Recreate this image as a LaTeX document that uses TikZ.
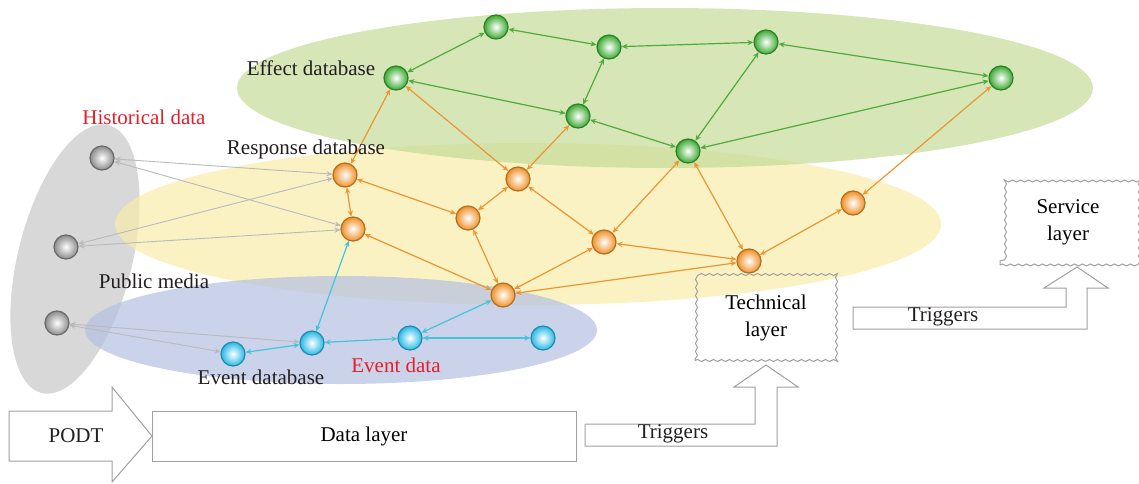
\documentclass[tikz,border=0pt]{standalone}
\usepackage{fontspec}
\setmainfont{Liberation Serif}
\usetikzlibrary{arrows.meta, positioning, decorations.pathmorphing}
\definecolor{effectbg}{RGB}{196,219,152}
\definecolor{respbg}{RGB}{249,236,171}
\definecolor{eventbg}{RGB}{181,192,226}
\definecolor{mediabg}{RGB}{199,199,199}
\definecolor{effectnd}{RGB}{60,170,50}
\definecolor{respnd}{RGB}{240,145,40}
\definecolor{eventnd}{RGB}{40,185,230}
\definecolor{mediand}{RGB}{140,140,140}
\definecolor{effectln}{RGB}{80,170,60}
\definecolor{respln}{RGB}{235,150,50}
\definecolor{eventln}{RGB}{70,195,220}
\definecolor{medialn}{RGB}{185,185,190}
\definecolor{boxln}{RGB}{160,160,160}
\definecolor{labtext}{RGB}{35,31,32}
\definecolor{labred}{RGB}{230,30,40}

\begin{document}
\begin{tikzpicture}[x=0.5pt, y=-0.5pt, >={Stealth[length=3pt, width=2.6pt]},
  font=\fontsize{10.5}{13.5}\selectfont,
  ball/.style={circle, minimum size=12pt, inner sep=0pt, draw=#1!75!black, line width=0.6pt, inner color=white, outer color=#1},
  glink/.style={<->, draw=effectln, line width=0.6pt},
  olink/.style={<->, draw=respln, line width=0.6pt},
  blink/.style={<->, draw=eventln, line width=0.6pt},
  mlink/.style={<->, draw=medialn, line width=0.45pt},
  wavybox/.style={draw=boxln, line width=0.5pt, align=center, decorate, decoration={snake, amplitude=0.5pt, segment length=4pt}},
  flat/.style={draw=boxln, line width=0.5pt, fill=white},
  lbl/.style={text=labtext, inner sep=0pt}]
\useasboundingbox (0,0) rectangle (1139,483);
\fill[mediabg, fill opacity=0.7, rotate around={-14:(75,259)}] (75,259) ellipse [x radius=57, y radius=138];
\fill[respbg, fill opacity=0.7] (528,224) ellipse [x radius=413, y radius=81];
\fill[eventbg, fill opacity=0.7] (341,330) ellipse [x radius=256, y radius=54];
\fill[effectbg, fill opacity=0.7] (665,88) ellipse [x radius=428, y radius=80];

\node[ball=effectnd] (g1) at (496,27) {};
\node[ball=effectnd] (g2) at (609,47) {};
\node[ball=effectnd] (g3) at (766,42) {};
\node[ball=effectnd] (g4) at (396,78) {};
\node[ball=effectnd] (g5) at (578,116) {};
\node[ball=effectnd] (g6) at (688,151) {};
\node[ball=effectnd] (g7) at (1001,78) {};
\node[ball=respnd] (o1) at (345,175) {};
\node[ball=respnd] (o2) at (353,229) {};
\node[ball=respnd] (o3) at (518,179) {};
\node[ball=respnd] (o4) at (468,218) {};
\node[ball=respnd] (o5) at (604,242) {};
\node[ball=respnd] (o6) at (503,295) {};
\node[ball=respnd] (o7) at (749,261) {};
\node[ball=respnd] (o8) at (853,203) {};
\node[ball=eventnd] (b1) at (233,354) {};
\node[ball=eventnd] (b2) at (312,343) {};
\node[ball=eventnd] (b3) at (410,338) {};
\node[ball=eventnd] (b4) at (543,338) {};
\node[ball=mediand] (m1) at (102,158) {};
\node[ball=mediand] (m2) at (66,247) {};
\node[ball=mediand] (m3) at (57,323) {};

\draw[glink] (g1) -- (g4);
\draw[glink] (g1) -- (g2);
\draw[glink] (g2) -- (g3);
\draw[glink] (g2) -- (g5);
\draw[glink] (g4) -- (g5);
\draw[glink] (g5) -- (g6);
\draw[glink] (g3) -- (g6);
\draw[glink] (g3) -- (g7);
\draw[glink] (g6) -- (g7);
\draw[olink] (o1) -- (g4);
\draw[olink] (o1) -- (o2);
\draw[olink] (o1) -- (o4);
\draw[olink] (o2) -- (o6);
\draw[olink] (o4) -- (o3);
\draw[olink] (o4) -- (o6);
\draw[olink] (o3) -- (g4);
\draw[olink] (o3) -- (g5);
\draw[olink] (o3) -- (o5);
\draw[olink] (o5) -- (g6);
\draw[olink] (o5) -- (o6);
\draw[olink] (o5) -- (o7);
\draw[olink] (o6) -- (o7);
\draw[olink] (o7) -- (g6);
\draw[olink] (o7) -- (o8);
\draw[olink] (o8) -- (g7);
\draw[blink] (b2) -- (o2);
\draw[blink] (b2) -- (b1);
\draw[blink] (b2) -- (b3);
\draw[blink] (b3) -- (o6);
\draw[blink] (b3) -- (b4);
\draw[mlink] (m1) -- (o1);
\draw[mlink] (m1) -- (o2);
\draw[mlink] (m2) -- (o1);
\draw[mlink] (m2) -- (o2);
\draw[mlink] (m3) -- (b2);
\draw[mlink] (m3) -- (b1);

\node[lbl, text=labred] (hist) at (144,117) {Historical data};
\node[lbl] (resp) at (306,149) {Response database};
\node[lbl] (effect) at (311,68) {Effect database};
\node[lbl] (media) at (154,281) {Public media};
\node[lbl] (evdb) at (261,377) {Event database};
\node[lbl, text=labred] (evdata) at (396,365) {Event data};

\node[wavybox, minimum width=71pt, minimum height=42.5pt] (tech) at (766,318) {Technical\\layer};
\node[wavybox, minimum width=68pt, minimum height=43pt] (serv) at (1068,222) {Service\\layer};

\draw[flat] (9,411) -- (112,411) -- (112,387) -- (152,436) -- (112,482) -- (112,461) -- (9,461) -- cycle;
\node[lbl] (podt) at (76,436) {PODT};
\node[flat, minimum width=212pt, minimum height=25pt] (data) at (364,436) {Data layer};
\draw[flat] (585,424) -- (755,424) -- (755,387) -- (734,387) -- (766,365) -- (798,387) -- (777,387) -- (777,446) -- (585,446) -- cycle;
\node[lbl] (trig1) at (673,434) {Triggers};
\draw[flat] (853,307) -- (1066,307) -- (1066,288) -- (1044,288) -- (1077,267) -- (1108,288) -- (1087,288) -- (1087,329) -- (853,329) -- cycle;
\node[lbl] (trig2) at (943,317) {Triggers};
\end{tikzpicture}
\end{document}
